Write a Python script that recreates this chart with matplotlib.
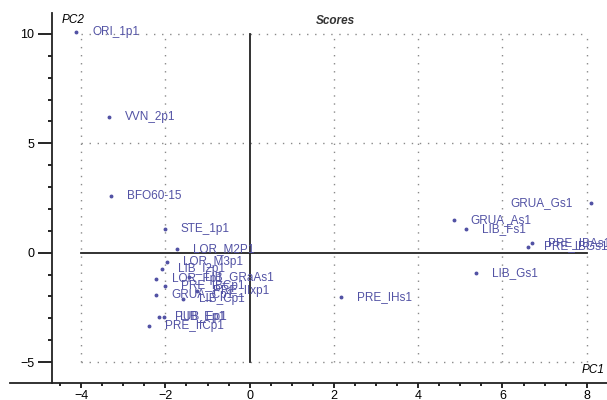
import matplotlib
matplotlib.use("Agg")
import matplotlib.pyplot as plt
from matplotlib.lines import Line2D
from matplotlib.ticker import MultipleLocator

plt.rcParams['font.family'] = ['Liberation Sans', 'DejaVu Sans']

# PCA scores (PC1, PC2) per sample
names = ['ORI_1p1', 'VVN_2p1', 'BFO60-15', 'STE_1p1', 'LOR_M2P1', 'LOR_M3p1',
         'LIB_I2p1', 'LOR_Fp1', 'LIB_GRaAs1', 'PRE_IBCp1', 'PRE_IIxp1',
         'GRUA_Cp1', 'LIB_Cp1', 'PUB_Ep1', 'LIB_Ep1', 'PRE_IfCp1',
         'GRUA_Gs1', 'GRUA_As1', 'LIB_Fs1', 'PRE_IBAs1', 'PRE_IBGs1',
         'LIB_Gs1', 'PRE_IHs1']
pc1 = [-4.11, -3.33, -3.30, -2.02, -1.73, -1.97,
       -2.07, -2.23, -1.43, -2.02, -1.26,
       -2.23, -1.57, -2.16, -2.04, -2.38,
       8.10, 4.85, 5.13, 6.70, 6.60,
       5.37, 2.16]
pc2 = [10.09, 6.19, 2.57, 1.10, 0.18, -0.41,
       -0.73, -1.19, -1.10, -1.51, -1.74,
       -1.93, -2.11, -2.94, -2.94, -3.35,
       2.29, 1.51, 1.10, 0.46, 0.28,
       -0.92, -2.02]
# labels drawn on the left of their point
left_labels = ['GRUA_Gs1']

xticks = [-4, -2, 0, 2, 4, 6, 8]
yticks = [-5, 0, 5, 10]

W, H = 607, 400
fig = plt.figure(figsize=(W / 100, H / 100), dpi=100)
ax = fig.add_axes([52 / W, (H - 383) / H, (W - 52) / W, (383 - 13) / H])
ax.set_xlim(-4.69, 8.48)
ax.set_ylim(-5.96, 10.96)

blue = '#5252a4'
grid_kw = dict(color='#8a8a8a', lw=1.0, ls=(0, (1, 4.8)), zorder=1)
for gx in [-4, -2, 2, 4, 6, 8]:
    ax.plot([gx, gx], [-5, 10], **grid_kw)
for gy in [-5, 5, 10]:
    ax.plot([-4, 8], [gy, gy], **grid_kw)
ax.plot([-4, 8], [0, 0], color='#222222', lw=1.3, zorder=2)
ax.plot([0, 0], [-5, 10], color='#222222', lw=1.3, zorder=2)

ax.plot(pc1, pc2, 'o', ms=1.8, color=blue, zorder=3)
for name, x, y in zip(names, pc1, pc2):
    if name in left_labels:
        ax.annotate(name, (x, y), xytext=(-18, 0), textcoords='offset pixels',
                    ha='right', va='center', fontsize=8.5, color=blue)
    else:
        ax.annotate(name, (x, y), xytext=(16, 0), textcoords='offset pixels',
                    ha='left', va='center', fontsize=8.5, color=blue,
                    annotation_clip=False)

for s in ['top', 'right']:
    ax.spines[s].set_visible(False)
for s in ['left', 'bottom']:
    ax.spines[s].set_linewidth(1.3)
    ax.spines[s].set_color('#222222')

# tick sizes in points (dpi 100)
ax.set_xticks(xticks)
ax.set_yticks(yticks)
ax.xaxis.set_minor_locator(MultipleLocator(0.5))
ax.yaxis.set_minor_locator(MultipleLocator(1))
ax.tick_params(axis='x', which='major', length=3.8, width=1.2, pad=1.5, labelsize=9)
ax.tick_params(axis='x', which='minor', length=2.2, width=1.2)
ax.tick_params(axis='y', which='major', length=10, width=1.2, pad=2.8, labelsize=9)
ax.tick_params(axis='y', which='minor', length=2.8, width=1.2)

# bottom axis line runs past the y axis
fig.add_artist(Line2D([10 / W, 52 / W], [(H - 383) / H] * 2, color='#222222', lw=1.3))

fig.text(62 / W, 1 - 20 / H, 'PC2', fontsize=8.5, style='italic', va='center')
fig.text(335 / W, 1 - 21 / H, 'Scores', fontsize=8.5, style='italic',
         weight='bold', ha='center', va='center', color='#333333')
fig.text(582 / W, 1 - 370 / H, 'PC1', fontsize=8.5, style='italic', va='center')

fig.savefig('out.png', dpi=100)
